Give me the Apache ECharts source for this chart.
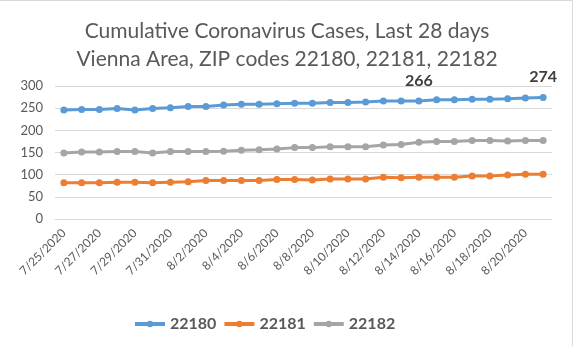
<!DOCTYPE html>
<html>
<head>
<meta charset="utf-8">
<script src="https://cdn.jsdelivr.net/npm/echarts@6/dist/echarts.min.js"></script>
<style>
html,body{margin:0;padding:0;background:#fff;}
#c{width:574px;height:346px;}
</style>
</head>
<body>
<div id="c"></div>
<script>
const categories = ["7/25/2020","7/26/2020","7/27/2020","7/28/2020","7/29/2020","7/30/2020","7/31/2020",
  "8/1/2020","8/2/2020","8/3/2020","8/4/2020","8/5/2020","8/6/2020","8/7/2020",
  "8/8/2020","8/9/2020","8/10/2020","8/11/2020","8/12/2020","8/13/2020","8/14/2020",
  "8/15/2020","8/16/2020","8/17/2020","8/18/2020","8/19/2020","8/20/2020","8/21/2020"];
const zip22180 = [246,247,247,249,246,249,251,254,254,257,259,259,260,261,261,263,263,264,266,266,266,269,269,270,270,271,273,274];
const zip22181 = [82,82,82,83,83,82,83,84,87,87,87,87,89,89,88,90,90,90,94,93,94,94,94,97,97,99,101,101];
const zip22182 = [149,151,151,152,152,149,152,152,152,153,155,156,158,161,161,163,163,163,167,168,173,175,175,177,177,176,177,177];
const labeledPoints22180 = [20, 27];
const seriesNames = ["22180","22181","22182"];
const yTicks = [0,50,100,150,200,250,300];

const FONT = "Lato, 'Liberation Sans', sans-serif";
const colors = ['#5B9BD5','#ED7D31','#A5A5A5'];

function mk(name, vals, color, labelIdx){
  return {
    name: name, type: 'line', data: vals.map((v,i)=>{
      if (labelIdx && labelIdx.indexOf(i) >= 0) {
        return {value: v, label: {show: true}};
      }
      return v;
    }),
    symbol: 'circle', symbolSize: 7,
    lineStyle: {width: 3, color: color},
    itemStyle: {color: color},
    label: {show: false, position: 'top', distance: 9, color: '#404040',
      fontFamily: FONT, fontWeight: 'bold', fontSize: 16},
    emphasis: {disabled: true},
    animation: false
  };
}

const chart = echarts.init(document.getElementById('c'));
chart.setOption({
  animation: false,
  color: colors,
  title: {
    text: 'Cumulative Coronavirus Cases, Last 28 days\nVienna Area, ZIP codes 22180, 22181, 22182',
    left: 'center', top: 12,
    textStyle: {fontFamily: FONT, fontWeight: 'normal', fontSize: 21, color: '#595959', lineHeight: 28}
  },
  legend: {
    data: seriesNames, bottom: 14, left: 133, padding: 0,
    itemWidth: 30, itemHeight: 8, itemGap: 6,
    lineStyle: {width: 4},
    textStyle: {fontFamily: FONT, fontWeight: 'bold', fontSize: 16, color: '#595959'}
  },
  grid: {left: 55, right: 22, top: 86, bottom: 127},
  xAxis: {
    type: 'category', data: categories, boundaryGap: true,
    axisLine: {lineStyle: {color: '#D9D9D9'}},
    axisTick: {show: false},
    axisLabel: {interval: 1, rotate: 45, margin: 12, fontFamily: FONT, fontSize: 12, color: '#595959'}
  },
  yAxis: {
    type: 'value', min: yTicks[0], max: yTicks[yTicks.length-1], interval: 50,
    axisLine: {show: false}, axisTick: {show: false},
    splitLine: {lineStyle: {color: '#D9D9D9'}},
    axisLabel: {margin: 12, fontFamily: FONT, fontSize: 13, color: '#595959'}
  },
  graphic: [{
    type: 'rect', shape: {x: -2, y: 0.5, width: 574.5, height: 360},
    style: {fill: 'none', stroke: '#D9D9D9', lineWidth: 1}, silent: true
  }],
  series: [
    mk(seriesNames[0], zip22180, colors[0], labeledPoints22180),
    mk(seriesNames[1], zip22181, colors[1]),
    mk(seriesNames[2], zip22182, colors[2])
  ]
});
</script>
</body>
</html>
